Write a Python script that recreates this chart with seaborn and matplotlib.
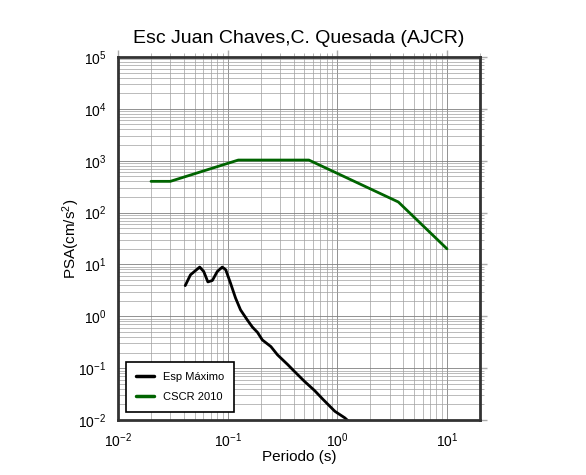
import matplotlib
matplotlib.use("Agg")
import matplotlib.pyplot as plt
import seaborn as sns
import pandas as pd
import numpy as np
from matplotlib.ticker import LogLocator, LogFormatterMathtext, NullFormatter

# Data
esp_period = [0.041, 0.0458, 0.0556, 0.0605, 0.066, 0.0725, 0.0804, 0.0893, 0.096,
              0.106, 0.118, 0.131, 0.151, 0.168, 0.187, 0.207, 0.248, 0.285, 0.353,
              0.405, 0.50, 0.62, 0.74, 0.95, 1.17, 1.3]
esp_psa = [3.9, 6.3, 8.9, 7.3, 4.6, 4.9, 7.3, 8.9, 7.9,
           4.4, 2.25, 1.33, 0.85, 0.62, 0.49, 0.35, 0.26, 0.18, 0.117,
           0.087, 0.056, 0.037, 0.025, 0.0147, 0.011, 0.009]
cscr_period = [0.02, 0.03, 0.125, 0.55, 3.6, 10.0]
cscr_psa = [400, 400, 1030, 1030, 160, 20]

series_names = ["Esp Máximo", "CSCR 2010"]
series_colors = ["black", "#006400"]

df = pd.concat([
    pd.DataFrame({"Periodo": esp_period, "PSA": esp_psa, "serie": series_names[0]}),
    pd.DataFrame({"Periodo": cscr_period, "PSA": cscr_psa, "serie": series_names[1]}),
], ignore_index=True)

sns.set_style("white")
plt.rcParams['font.family'] = ['Liberation Sans', 'DejaVu Sans']
plt.rcParams['mathtext.fontset'] = 'custom'
plt.rcParams['mathtext.rm'] = 'Liberation Sans'
plt.rcParams['mathtext.it'] = 'Liberation Sans'
plt.rcParams['text.color'] = 'black'
plt.rcParams['axes.labelcolor'] = 'black'
plt.rcParams['xtick.color'] = 'black'
plt.rcParams['ytick.color'] = 'black'

fig = plt.figure(figsize=(5.86, 4.75), dpi=100)
ax = fig.add_axes([118/586, 1-420/475, (480-118)/586, (420-57)/475])

sns.lineplot(data=df, x="Periodo", y="PSA", hue="serie", palette=dict(zip(series_names, series_colors)),
             sort=False, estimator=None, linewidth=2, ax=ax)

ax.set_xscale("log")
ax.set_yscale("log")
ax.set_xlim(1e-2, 20)
ax.set_ylim(1e-2, 1e5)

ax.xaxis.set_major_locator(LogLocator(base=10, numticks=10))
ax.yaxis.set_major_locator(LogLocator(base=10, numticks=10))
ax.xaxis.set_minor_locator(LogLocator(base=10, subs=np.arange(2, 10), numticks=20))
ax.yaxis.set_minor_locator(LogLocator(base=10, subs=np.arange(2, 10), numticks=20))
ax.xaxis.set_major_formatter(LogFormatterMathtext())
ax.yaxis.set_major_formatter(LogFormatterMathtext())
ax.xaxis.set_minor_formatter(NullFormatter())
ax.yaxis.set_minor_formatter(NullFormatter())

ax.grid(True, which="major", color="#808080", linewidth=0.6)
ax.grid(True, which="minor", color="#a0a0a0", linewidth=0.5)
ax.set_axisbelow(True)

ax.tick_params(which="both", direction="out", top=True, right=True, labelsize=10,
               color="#aaaaaa", labelcolor="black")
ax.tick_params(which="major", length=5, width=1)
ax.tick_params(which="minor", length=3, width=0.6)
for s in ax.spines.values():
    s.set_color("#333333")
    s.set_linewidth(2)
    s.set_visible(True)

ax.set_title("Esc Juan Chaves,C. Quesada (AJCR)", fontsize=14, pad=10, color="black")
ax.set_xlabel("Periodo (s)", fontsize=11, labelpad=0)
ax.set_ylabel("PSA(cm/s$^2$)", fontsize=11, labelpad=-3)

leg = ax.legend(loc="lower left", fontsize=8, frameon=True, fancybox=False,
                edgecolor="black", framealpha=1, borderpad=0.9, handlelength=1.6,
                bbox_to_anchor=(0.022, 0.022), borderaxespad=0, labelspacing=0.9)
leg.get_frame().set_linewidth(1.2)
for h in leg.get_lines():
    h.set_linewidth(2.5)

fig.savefig("out.png", dpi=100)
